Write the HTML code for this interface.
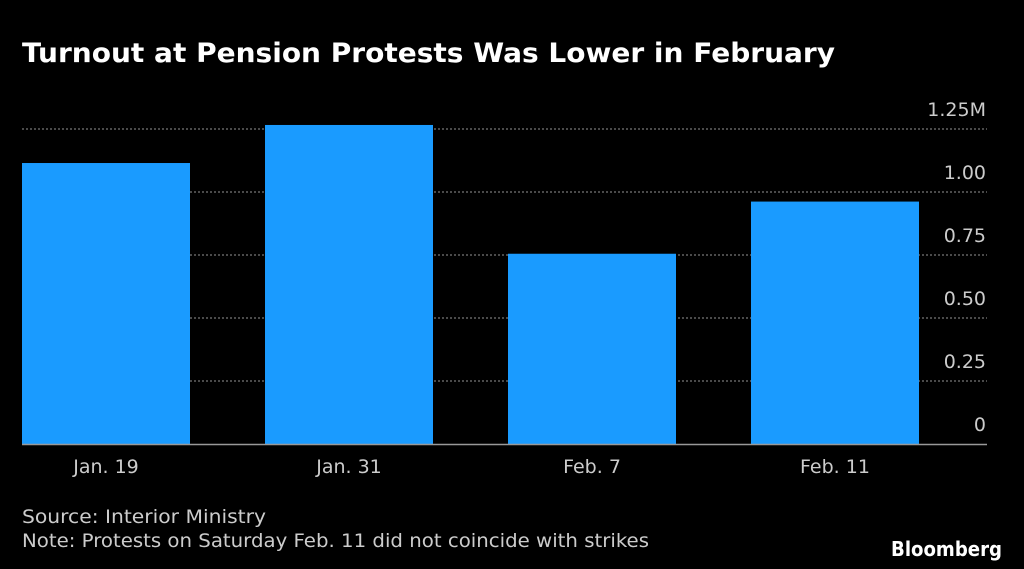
<!DOCTYPE html>
<html><head><meta charset="utf-8"><style>
html,body{margin:0;padding:0;background:#000;width:1024px;height:569px;overflow:hidden}
svg text{font-family:"DejaVu Sans","Liberation Sans",sans-serif}
</style></head><body>
<svg id="chart" width="1024" height="569" viewBox="0 0 1024 569">
<text x="22" y="62" fill="#fff" font-size="27" font-weight="bold" textLength="813" lengthAdjust="spacingAndGlyphs">Turnout at Pension Protests Was Lower in February</text>
<g id="grid"></g>
<g id="bars"></g>
<g id="xlabels"></g>
<text x="22" y="523" fill="#ccc" font-size="19" textLength="244" lengthAdjust="spacingAndGlyphs">Source: Interior Ministry</text>
<text x="22" y="547" fill="#ccc" font-size="19" textLength="627" lengthAdjust="spacingAndGlyphs">Note: Protests on Saturday Feb. 11 did not coincide with strikes</text>
<text x="1002" y="556" fill="#fff" font-size="20" font-weight="bold" text-anchor="end" textLength="111" lengthAdjust="spacingAndGlyphs">Bloomberg</text>
</svg>
<script>
const categories = ["Jan. 19","Jan. 31","Feb. 7","Feb. 11"];
const values = [1.115, 1.266, 0.755, 0.962];
const ticks = [0, 0.25, 0.5, 0.75, 1.0, 1.25];
const tickLabels = ["0","0.25","0.50","0.75","1.00","1.25M"];
const NS="http://www.w3.org/2000/svg";
const y0=444, pxPer=252;
function yScale(v){return y0 - v*pxPer;}
const left=22, step=243, barW=168;
function xScale(i){return left + i*step;}
function mk(t,a,p){const e=document.createElementNS(NS,t);for(const k in a)e.setAttribute(k,a[k]);p.appendChild(e);return e;}
const grid=document.getElementById('grid'), bars=document.getElementById('bars'), xl=document.getElementById('xlabels');
ticks.forEach((t,i)=>{
  const y=yScale(t);
  if(t>0){
    const l=mk('line',{x1:22,x2:987,y1:y,y2:y,stroke:'#777','stroke-width':1.2,'stroke-dasharray':'2,2'},grid);
    
    
  }
  const tx=mk('text',{x:986,y:y-13,fill:'#ccc','font-size':19,'text-anchor':'end'},grid);
  tx.textContent=tickLabels[i];
  
  
});
values.forEach((v,i)=>{
  const r=mk('rect',{x:xScale(i),y:yScale(v),width:barW,height:y0-yScale(v),fill:'#1a9bff'},bars);
  
  
  const t=mk('text',{x:xScale(i)+barW/2,y:473,fill:'#ccc','font-size':19,'text-anchor':'middle'},xl);
  t.textContent=categories[i];
  
  
});
const base=mk('line',{x1:22,x2:987,y1:y0+0.5,y2:y0+0.5,stroke:'#999','stroke-width':1.5},bars);


</script>
</body></html>
